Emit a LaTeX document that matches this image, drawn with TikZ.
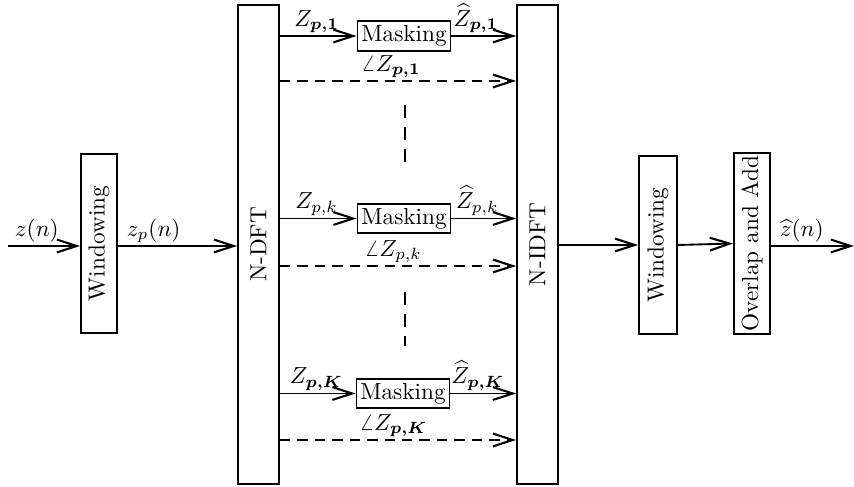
\documentclass[tikz,border=0pt]{standalone}
\usepackage{amsmath}
\usetikzlibrary{arrows.meta}
\begin{document}
\begin{tikzpicture}[x=0.43pt,y=-0.43pt,
  line width=0.8pt,
  arr/.style={-{Straight Barb[length=8.5pt,width=5.5pt,line width=0.9pt]}},
  dsh/.style={dash pattern=on 4.5pt off 3pt},
  vbox/.style={draw,inner sep=0pt,minimum width=#1},
  mbox/.style={draw,inner sep=1pt,minimum width=40pt,minimum height=12.6pt},
  lab/.style={above,inner sep=1pt}]
\useasboundingbox (0,0) rectangle (854,487);
% big boxes
\node[vbox=15.5pt,minimum height=77pt] (w1) at (99,243.5) {\rotatebox{90}{Windowing}};
\node[vbox=17.6pt,minimum height=206pt] (dft) at (258.5,244.5) {\rotatebox{90}{N-DFT}};
\node[vbox=17.6pt,minimum height=206pt] (idft) at (537.5,244.5) {\rotatebox{90}{N-IDFT}};
\node[vbox=16.3pt,minimum height=76.5pt] (w2) at (658,245) {\rotatebox{90}{Windowing}};
\node[vbox=15.5pt,minimum height=78pt] (oa) at (752,243.5) {\rotatebox{90}{Overlap and Add}};
% masking boxes
\node[mbox] (m1) at (404,36) {Masking};
\node[mbox] (m2) at (404,218.5) {Masking};
\node[mbox] (m3) at (403,393.5) {Masking};
% coordinates
\coordinate (in) at (8,246);
\coordinate (out) at (854,246);
\coordinate (d1) at (0,81);
\coordinate (d2) at (0,266);
\coordinate (d3) at (0,440);
% main chain
\draw[arr] (in) -- node[lab,pos=0.4] {$z(n)$} (in -| w1.west);
\draw[arr] (in -| w1.east) -- node[lab,pos=0.3] {$z_p(n)$} (in -| dft.west);
\draw[arr] (idft.east |- w2.center) -- (w2.west);
\draw[arr] (w2.east) -- (oa.west);
\draw[arr] (oa.east |- out) -- node[lab,pos=0.37] {$\widehat{z}(n)$} (out);
% rows
\draw[arr] (dft.east |- m1.west) -- node[lab,pos=0.48] {$Z_{\boldsymbol{p,1}}$} (m1.west);
\draw[arr] (m1.east) -- node[lab,pos=0.38] {$\widehat{Z}_{\boldsymbol{p,1}}$} (idft.west |- m1.east);
\draw[arr,dsh] (dft.east |- d1) -- node[lab,pos=0.47] {$\angle Z_{\boldsymbol{p,1}}$} (idft.west |- d1);
\draw[arr] (dft.east |- m2.west) -- node[lab,pos=0.48] {$Z_{p,k}$} (m2.west);
\draw[arr] (m2.east) -- node[lab,pos=0.4] {$\widehat{Z}_{p,k}$} (idft.west |- m2.east);
\draw[arr,dsh] (dft.east |- d2) -- node[lab,pos=0.48] {$\angle Z_{p,k}$} (idft.west |- d2);
\draw[arr] (dft.east |- m3.west) -- node[lab,pos=0.48] {$Z_{\boldsymbol{p,K}}$} (m3.west);
\draw[arr] (m3.east) -- node[lab,pos=0.42] {$\widehat{Z}_{\boldsymbol{p,K}}$} (idft.west |- m3.east);
\draw[arr,dsh] (dft.east |- d3) -- node[lab,pos=0.48] {$\angle Z_{\boldsymbol{p,K}}$} (idft.west |- d3);
% vertical dots
\coordinate (v1a) at (405,105);
\coordinate (v1b) at (405,162);
\coordinate (v2a) at (405,292);
\coordinate (v2b) at (405,346);
\draw[dash pattern=on 5.6pt off 3.9pt] (v1a) -- (v1b);
\draw[dash pattern=on 5.6pt off 3.9pt] (v2a) -- (v2b);
\end{tikzpicture}
\end{document}
